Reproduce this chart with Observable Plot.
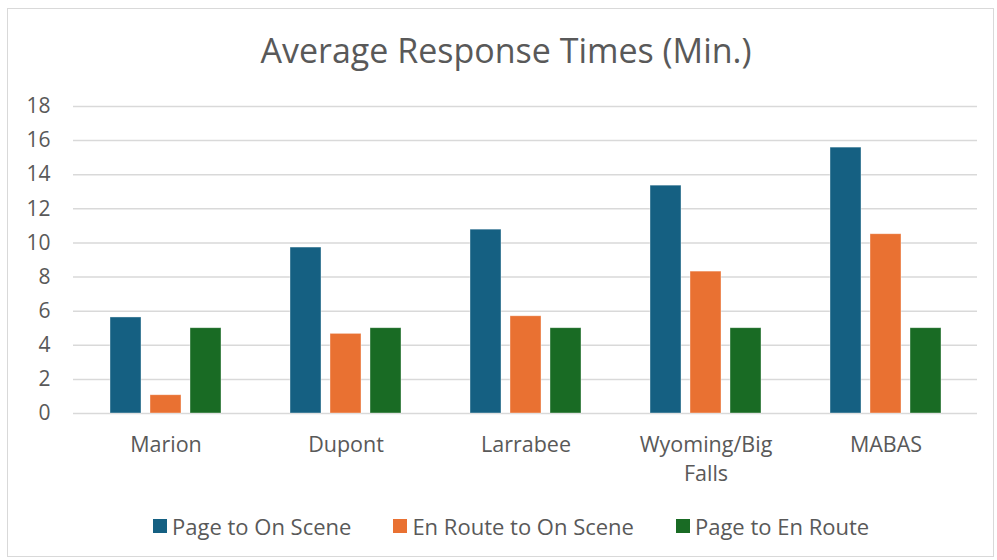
<!DOCTYPE html>
<html><head><meta charset="utf-8">
<script src="https://cdn.jsdelivr.net/npm/d3@7"></script>
<script src="https://cdn.jsdelivr.net/npm/@observablehq/plot@0.6"></script>
<style>
body{margin:0;background:#fff;font-family:"Open Sans",sans-serif;}
#frame{position:absolute;left:7px;top:8px;width:987px;height:549px;border:1px solid #d9d9d9;box-sizing:border-box;}
#title{position:absolute;left:0;top:30px;width:1012px;text-align:center;font-size:34px;color:#595959;line-height:1.2;}
#grid,#chart{position:absolute;left:0;top:80px;}
#legend{position:absolute;left:153px;top:511px;display:flex;gap:42px;font-size:22px;color:#595959;line-height:30px;}
.item{display:flex;align-items:center;gap:5px;}
.sw{width:14px;height:14px;display:inline-block;}
</style></head><body>
<div id="frame"></div>
<div id="title">Average Response Times (Min.)</div>
<div id="grid"></div>
<div id="chart"></div>
<div id="legend"></div>
<script>
const categories = ["Marion","Dupont","Larrabee","Wyoming/Big Falls","MABAS"];
const series = ["Page to On Scene","En Route to On Scene","Page to En Route"];
const pageToOnScene = [5.63,9.73,10.78,13.36,15.59];
const enRouteToOnScene = [1.07,4.67,5.70,8.32,10.51];
const pageToEnRoute = [5.0,5.0,5.0,5.0,5.0];
const yTicks = [0,2,4,6,8,10,12,14,16,18];
const colors = ["#156082","#E97132","#196B24"];

const values = [pageToOnScene, enRouteToOnScene, pageToEnRoute];
const data = [];
categories.forEach((c,i)=>series.forEach((s,j)=>data.push({category:c, series:s, value:values[j][i]})));

const common = {
  width:997, height:420,
  marginLeft:73, marginRight:20, marginTop:26, marginBottom:87,
  y:{domain:[0,18], axis:null},
  style:{fontFamily:"Open Sans", fontSize:"21px", color:"#595959", background:"transparent", overflow:"visible"}
};

const grid = Plot.plot({
  ...common,
  marks:[
    Plot.ruleY(yTicks,{y:d=>d, stroke:"#d9d9d9", strokeWidth:1.5}),
    Plot.text(yTicks,{y:d=>d, text:d=>String(d), frameAnchor:"left", dx:-23, textAnchor:"end", fill:"#595959", fontSize:21})
  ]
});
document.getElementById("grid").appendChild(grid);

const chart = Plot.plot({
  ...common,
  fx:{domain:categories, paddingInner:0.386, paddingOuter:0.193, label:null},
  x:{domain:series, paddingInner:0.225, paddingOuter:0, axis:null},
  color:{domain:series, range:colors},
  marks:[
    Plot.barY(data,{fx:"category", x:"series", y:"value", fill:"series", stroke:"white", strokeOpacity:0.5, strokeWidth:0.75}),
    Plot.axisFx({anchor:"bottom", tickSize:0, tickPadding:18, label:null, fill:"#595959", fontSize:21.5, lineHeight:1.35,
      tickFormat:d=>d.replace("/Big ","/Big\n")})
  ]
});
document.getElementById("chart").appendChild(chart);

const legend = document.getElementById("legend");
series.forEach((s,j)=>{
  const it = document.createElement("div"); it.className="item";
  const sw = document.createElement("span"); sw.className="sw"; sw.style.background=colors[j];
  const t = document.createElement("span"); t.textContent=s;
  it.appendChild(sw); it.appendChild(t); legend.appendChild(it);
});
</script>
</body></html>
